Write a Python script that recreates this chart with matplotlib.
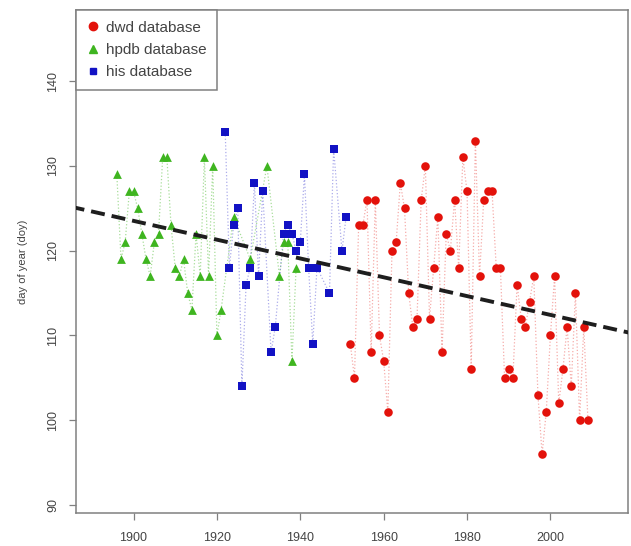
import numpy as np
import matplotlib.pyplot as plt
from matplotlib.lines import Line2D

plt.rcParams['font.family'] = ['Liberation Sans', 'DejaVu Sans']

# hpdb database (green triangles)
hpdb_years = [1896, 1897, 1898, 1899, 1900, 1901, 1902, 1903, 1904, 1905,
              1906, 1907, 1908, 1909, 1910, 1911, 1912, 1913, 1914, 1915,
              1916, 1917, 1918, 1919, 1920, 1921, 1924, 1928, 1932, 1935,
              1936, 1937, 1938, 1939]
hpdb_doy = [129, 119, 121, 127, 127, 125, 122, 119, 117, 121,
            122, 131, 131, 123, 118, 117, 119, 115, 113, 122,
            117, 131, 117, 130, 110, 113, 124, 119, 130, 117,
            121, 121, 107, 118]

# his database (blue squares)
his_years = [1922, 1923, 1924, 1925, 1926, 1927, 1928, 1929, 1930, 1931,
             1933, 1934, 1936, 1937, 1938, 1939, 1940, 1941, 1942, 1943,
             1944, 1947, 1948, 1950, 1951]
his_doy = [134, 118, 123, 125, 104, 116, 118, 128, 117, 127,
           108, 111, 122, 123, 122, 120, 121, 129, 118, 109,
           118, 115, 132, 120, 124]

# dwd database (red circles)
dwd_years = list(range(1952, 2010))
dwd_doy = [109, 105, 123, 123, 126, 108, 126, 110, 107, 101,
           120, 121, 128, 125, 115, 111, 112, 126, 130, 112,
           118, 124, 108, 122, 120, 126, 118, 131, 127, 106,
           133, 117, 126, 127, 127, 118, 118, 105, 106, 105,
           116, 112, 111, 114, 117, 103, 96, 101, 110, 117,
           102, 106, 111, 104, 115, 100, 111, 100]

red = '#e3120b'
green = '#3fb520'
blue = '#1212c4'
txt = '#444444'
frame = '#808080'

fig = plt.figure(figsize=(6.31, 5.46), dpi=100)
ax = fig.add_axes([0.1204, 0.0604, 0.8748, 0.9213])

# linear trend over all records
all_x = np.array(hpdb_years + his_years + dwd_years, dtype=float)
all_y = np.array(hpdb_doy + his_doy + dwd_doy, dtype=float)
k, b = np.polyfit(all_x, all_y, 1)

ax.plot(hpdb_years, hpdb_doy, ls=':', lw=0.9, color=green, alpha=0.45, zorder=2)
ax.plot(his_years, his_doy, ls=':', lw=0.9, color=blue, alpha=0.35, zorder=2)
ax.plot(dwd_years, dwd_doy, ls=':', lw=0.9, color=red, alpha=0.35, zorder=2)

ax.scatter(hpdb_years, hpdb_doy, marker='^', s=40, color=green, zorder=3, linewidths=0)
ax.scatter(his_years, his_doy, marker='s', s=28, color=blue, zorder=3, linewidths=0)
ax.scatter(dwd_years, dwd_doy, marker='o', s=38, color=red, zorder=3, linewidths=0)

xs = np.array([1880, 2025])
ax.plot(xs, k * xs + b, color='#1e1e1e', lw=2.8, ls=(0, (3.6, 1.8)), zorder=4)

ax.set_xlim(1886.2, 2018.6)
ax.set_ylim(89.05, 148.4)
ax.set_xticks([1900, 1920, 1940, 1960, 1980, 2000])
ax.set_yticks([90, 100, 110, 120, 130, 140])
ax.set_yticklabels(['90', '100', '110', '120', '130', '140'], rotation=90, va='center')
ax.tick_params(direction='out', length=5, width=0.9, colors=frame,
               labelcolor=txt, labelsize=9, pad=7)
ax.tick_params(axis='x', pad=9)
for s in ax.spines.values():
    s.set_color(frame)
    s.set_linewidth(1.1)
ax.set_ylabel('day of year (doy)', fontsize=8, color=txt, labelpad=14)

handles = [
    Line2D([], [], marker='o', ls='', color=red, markersize=6),
    Line2D([], [], marker='^', ls='', color=green, markersize=6),
    Line2D([], [], marker='s', ls='', color=blue, markersize=5),
]
leg = ax.legend(handles, ['dwd database', 'hpdb database', 'his database'],
                loc='upper left', borderaxespad=0, fancybox=False,
                fontsize=11, labelspacing=0.55, handletextpad=0.45,
                handlelength=0.8, borderpad=0.7, framealpha=1)
leg.get_frame().set_edgecolor(frame)
leg.get_frame().set_linewidth(1.1)
for t in leg.get_texts():
    t.set_color(txt)

fig.savefig('out.png', dpi=100)
